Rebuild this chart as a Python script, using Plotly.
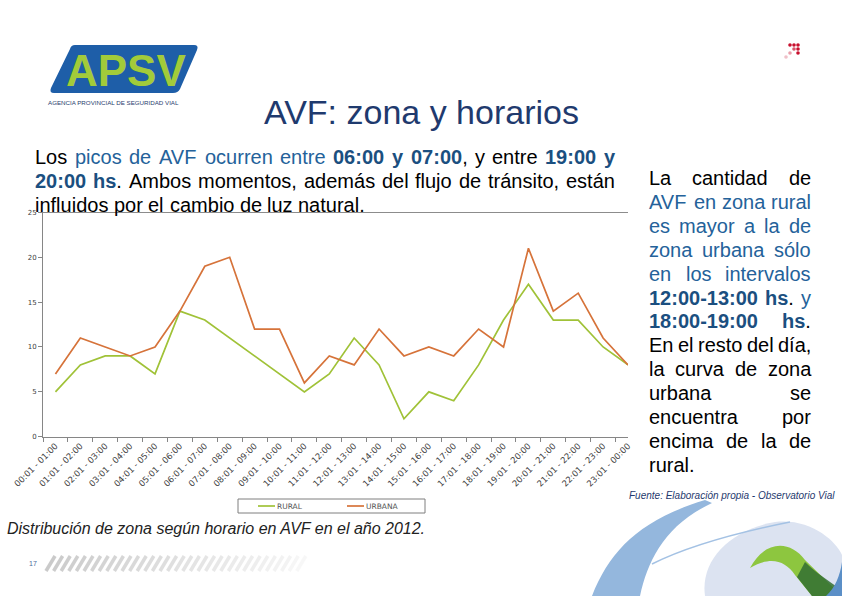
import plotly.graph_objects as go

W, H = 842, 596

horas = ["00:01 - 01:00", "01:01 - 02:00", "02:01 - 03:00", "03:01 - 04:00",
         "04:01 - 05:00", "05:01 - 06:00", "06:01 - 07:00", "07:01 - 08:00",
         "08:01 - 09:00", "09:01 - 10:00", "10:01 - 11:00", "11:01 - 12:00",
         "12:01 - 13:00", "13:01 - 14:00", "14:01 - 15:00", "15:01 - 16:00",
         "16:01 - 17:00", "17:01 - 18:00", "18:01 - 19:00", "19:01 - 20:00",
         "20:01 - 21:00", "21:01 - 22:00", "22:01 - 23:00", "23:01 - 00:00"]
rural = [5, 8, 9, 9, 7, 14, 13, 11, 9, 7, 5, 7, 11, 8, 2, 5, 4, 8, 13, 17, 13, 13, 10, 8]
urbana = [7, 11, 10, 9, 10, 14, 19, 20, 12, 12, 6, 9, 8, 12, 9, 10, 9, 12, 10, 21, 14, 16, 11, 8]
series = [("RURAL", rural, "#A0C238"), ("URBANA", urbana, "#D6733A")]

# text blocks: (style, text)  k = black, b = blue, B = bold blue
parrafo = [
    [("k", "Los "), ("b", "picos de AVF ocurren entre "), ("B", "06:00 y 07:00"),
     ("k", ", y entre "), ("B", "19:00 y")],
    [("B", "20:00 hs"), ("k", ". Ambos momentos, además del flujo de tránsito, están")],
    [("k", "influidos por el cambio de luz natural.")],
]
lateral = [
    [("k", "La cantidad de")],
    [("b", "AVF en zona rural")],
    [("b", "es mayor a la de")],
    [("b", "zona urbana sólo")],
    [("b", "en los intervalos")],
    [("B", "12:00-13:00 hs"), ("k", "."), ("b", " y")],
    [("B", "18:00-19:00 hs"), ("k", ".")],
    [("k", "En el resto del día,")],
    [("k", "la curva de zona")],
    [("k", "urbana se")],
    [("k", "encuentra por")],
    [("k", "encima de la de")],
    [("k", "rural.")],
]

FONT = "Liberation Sans, Arial, sans-serif"
FONT_CHART = "DejaVu Sans, Verdana, sans-serif"
AZUL = "#24629A"
AZUL_B = "#1B4F80"
COLORES = {"k": "#000000", "b": AZUL, "B": AZUL_B}

# Arial advance widths (1/1000 em)
REG = {" ": 278, ",": 278, ".": 278, ":": 278, "-": 333,
       "A": 667, "E": 667, "F": 611, "L": 556, "V": 667,
       "a": 556, "b": 556, "c": 500, "d": 556, "e": 556, "f": 278, "g": 556,
       "h": 556, "i": 222, "j": 222, "k": 500, "l": 222, "m": 833, "n": 556,
       "o": 556, "p": 556, "q": 556, "r": 333, "s": 500, "t": 278, "u": 556,
       "v": 500, "w": 722, "x": 500, "y": 500, "z": 500,
       "á": 556, "é": 556, "í": 278, "ó": 556, "ñ": 556}
BOLD = {" ": 278, ",": 278, ".": 278, ":": 333, "-": 333,
        "h": 611, "s": 556, "y": 556}


def px(x):
    return x / W


def py(y):
    return 1 - y / H


def palabras(segs):
    out, cur = [], []
    for style, text in segs:
        partes = text.split(" ")
        for j, p in enumerate(partes):
            if j > 0 and cur:
                out.append(cur)
                cur = []
            if p:
                cur.append((style, p))
    if cur:
        out.append(cur)
    return out


def ancho(word, size):
    total = 0
    for style, t in word:
        tabla = BOLD if style == "B" else REG
        total += sum(tabla.get(c, 556) for c in t)
    return total * size / 1000


def html(word):
    s = ""
    for style, t in word:
        if style == "B":
            s += f"<span style='color:{COLORES[style]}'><b>{t}</b></span>"
        else:
            s += f"<span style='color:{COLORES[style]}'>{t}</span>"
    return s


def texto(x, y, text, size, color, xanchor="center", family=FONT):
    fig.add_annotation(x=px(x), y=py(y), xref="paper", yref="paper", text=text,
                       showarrow=False, xanchor=xanchor, yanchor="middle",
                       borderpad=0, borderwidth=0,
                       font=dict(family=family, size=size, color=color))


fig = go.Figure()

for nombre, valores, color in series:
    fig.add_trace(go.Scatter(x=horas, y=valores, mode="lines", name=nombre,
                             line=dict(color=color, width=1.7)))


def linea_texto(segs, x0, x1, yc, size, justificar):
    ws = palabras(segs)
    anchos = [ancho(w, size) for w in ws]
    if justificar and len(ws) > 1:
        gap = (x1 - x0 - sum(anchos)) / (len(ws) - 1)
    else:
        gap = 278 * size / 1000
    x = x0
    for w, a in zip(ws, anchos):
        texto(x, yc, html(w), size, "#000", xanchor="left")
        x += a + gap


for i, segs in enumerate(parrafo):
    linea_texto(segs, 35, 615, 157 + i * 24, 20, i < len(parrafo) - 1)

for i, segs in enumerate(lateral):
    linea_texto(segs, 649, 811, 178 + i * 23.9, 20, i < len(lateral) - 1)

# title and captions
texto(421, 112, "AVF: zona y horarios", 34, "#1F3A6E")
texto(7, 528, "<i>Distribución de zona según horario en AVF en el año 2012.</i>", 16, "#222",
      xanchor="left")
texto(835, 495, "<i>Fuente: Elaboración propia - Observatorio Vial</i>", 10, "#1F3A6E",
      xanchor="right")
texto(33, 563, "17", 7, "#4A6A9A")


def path(cmds):
    s = ""
    for c in cmds:
        s += c[0]
        pts = c[1:]
        s += " ".join(f"{px(pts[k]):.5f},{py(pts[k + 1]):.5f}" for k in range(0, len(pts), 2)) + " "
    return s.strip()


shapes = []

# logo
shapes.append(dict(type="path", xref="paper", yref="paper", line=dict(width=0), fillcolor="#1E5EA8",
                   path=path([("M", 75, 45), ("L", 194, 45), ("Q", 199, 45, 197, 50), ("L", 180, 89),
                              ("Q", 178, 93, 173, 93), ("L", 54, 93), ("Q", 49, 93, 51, 88),
                              ("L", 70, 49), ("Q", 71, 45, 75, 45), ("Z",)])))
texto(126, 70, "<b>APSV</b>", 44, "#A2CB3A")
texto(113, 103, "AGENCIA PROVINCIAL DE SEGURIDAD VIAL", 6.2, "#1F3C6E")

# red dots top right
for (x, y, c) in [(790, 45, "#C8102E"), (794, 45, "#C8102E"), (798, 45, "#C8102E"),
                  (794, 49, "#D9546A"), (798, 49, "#C8102E"), (798, 53, "#C8102E"),
                  (790, 53, "#E9A0AC"), (786, 57, "#F0C0C8")]:
    shapes.append(dict(type="circle", xref="paper", yref="paper", line=dict(width=0), fillcolor=c,
                       x0=px(x - 1.8), x1=px(x + 1.8), y0=py(y + 1.8), y1=py(y - 1.8)))

# diagonal stripes bottom left
n = 34
for i in range(n):
    x = 46 + i * 7.6
    alpha = 0.5 - 0.42 * i / (n - 1)
    shapes.append(dict(type="line", xref="paper", yref="paper",
                       x0=px(x), y0=py(571), x1=px(x + 9), y1=py(556),
                       line=dict(color=f"rgba(150,150,150,{alpha:.2f})", width=3.5)))

# bottom right decoration
shapes.append(dict(type="path", xref="paper", yref="paper", line=dict(width=0), fillcolor="#DCE3F1",
                   path=path([("M", 705, 596), ("C", 700, 560, 730, 530, 775, 522),
                              ("C", 810, 518, 835, 540, 842, 555), ("L", 842, 596), ("Z",)])))
shapes.append(dict(type="path", xref="paper", yref="paper", line=dict(width=0), fillcolor="#94B7DD",
                   path=path([("M", 592, 596), ("C", 610, 550, 640, 520, 705, 500), ("L", 712, 503),
                              ("C", 665, 525, 648, 560, 640, 596), ("Z",)])))
shapes.append(dict(type="path", xref="paper", yref="paper", line=dict(color="#A4C2E4", width=1.5),
                   path=path([("M", 652, 564), ("Q", 700, 540, 790, 522)])))
shapes.append(dict(type="path", xref="paper", yref="paper", line=dict(width=0), fillcolor="#8DC63F",
                   path=path([("M", 750, 568), ("C", 765, 540, 790, 540, 805, 560), ("L", 842, 596),
                              ("L", 812, 596), ("L", 795, 575), ("C", 785, 560, 770, 556, 750, 568),
                              ("Z",)])))
shapes.append(dict(type="path", xref="paper", yref="paper", line=dict(width=0),
                   fillcolor="rgba(50,110,50,0.85)",
                   path=path([("M", 797, 577), ("L", 812, 596), ("L", 842, 596), ("L", 842, 590),
                              ("C", 830, 582, 815, 572, 805, 562), ("Z",)])))
shapes.append(dict(type="path", xref="paper", yref="paper", line=dict(width=0), fillcolor="#5B8FC7",
                   path=path([("M", 826, 596), ("L", 842, 596), ("L", 842, 562),
                              ("C", 840, 576, 835, 588, 826, 596), ("Z",)])))

# chart top border
shapes.append(dict(type="line", xref="paper", yref="paper", x0=px(43), x1=px(628),
                   y0=py(212.5), y1=py(212.5), line=dict(color="#8C8C8C", width=1)))

# legend box (drawn by hand to match the small Excel legend)
shapes.append(dict(type="rect", xref="paper", yref="paper", x0=px(238), x1=px(425),
                   y0=py(513), y1=py(499), line=dict(color="#7F7F7F", width=1),
                   fillcolor="white"))
for k, (nombre, _, color) in enumerate(series):
    x0 = 258 + k * 89
    shapes.append(dict(type="line", xref="paper", yref="paper", x0=px(x0), x1=px(x0 + 17),
                       y0=py(506), y1=py(506), line=dict(color=color, width=1.7)))
    texto(x0 + 19, 506, nombre, 7.5, "#555", xanchor="left", family=FONT_CHART)

fig.update_layout(
    width=W, height=H,
    margin=dict(l=0, r=0, t=0, b=0),
    paper_bgcolor="white", plot_bgcolor="white",
    shapes=shapes,
    showlegend=False,
    xaxis=dict(domain=[px(43), px(628)], type="category", range=[-0.5, 23],
               tickangle=-45, tickson="boundaries", ticks="outside", ticklen=4,
               tickcolor="#868686", showline=True, linecolor="#868686", linewidth=1,
               showgrid=False, zeroline=False, automargin=False,
               tickfont=dict(family=FONT_CHART, size=8.5, color="#404040")),
    yaxis=dict(domain=[py(436.7), py(212.4)], range=[0, 25], dtick=5,
               ticks="outside", ticklen=4, tickcolor="#868686",
               showline=True, linecolor="#868686", linewidth=1,
               showgrid=False, zeroline=False, automargin=False,
               tickfont=dict(family=FONT_CHART, size=7, color="#404040")),
)

fig.write_html("out.html", config={"displayModeBar": False},
               post_script="document.body.style.margin='0';document.body.style.overflow='hidden';")
